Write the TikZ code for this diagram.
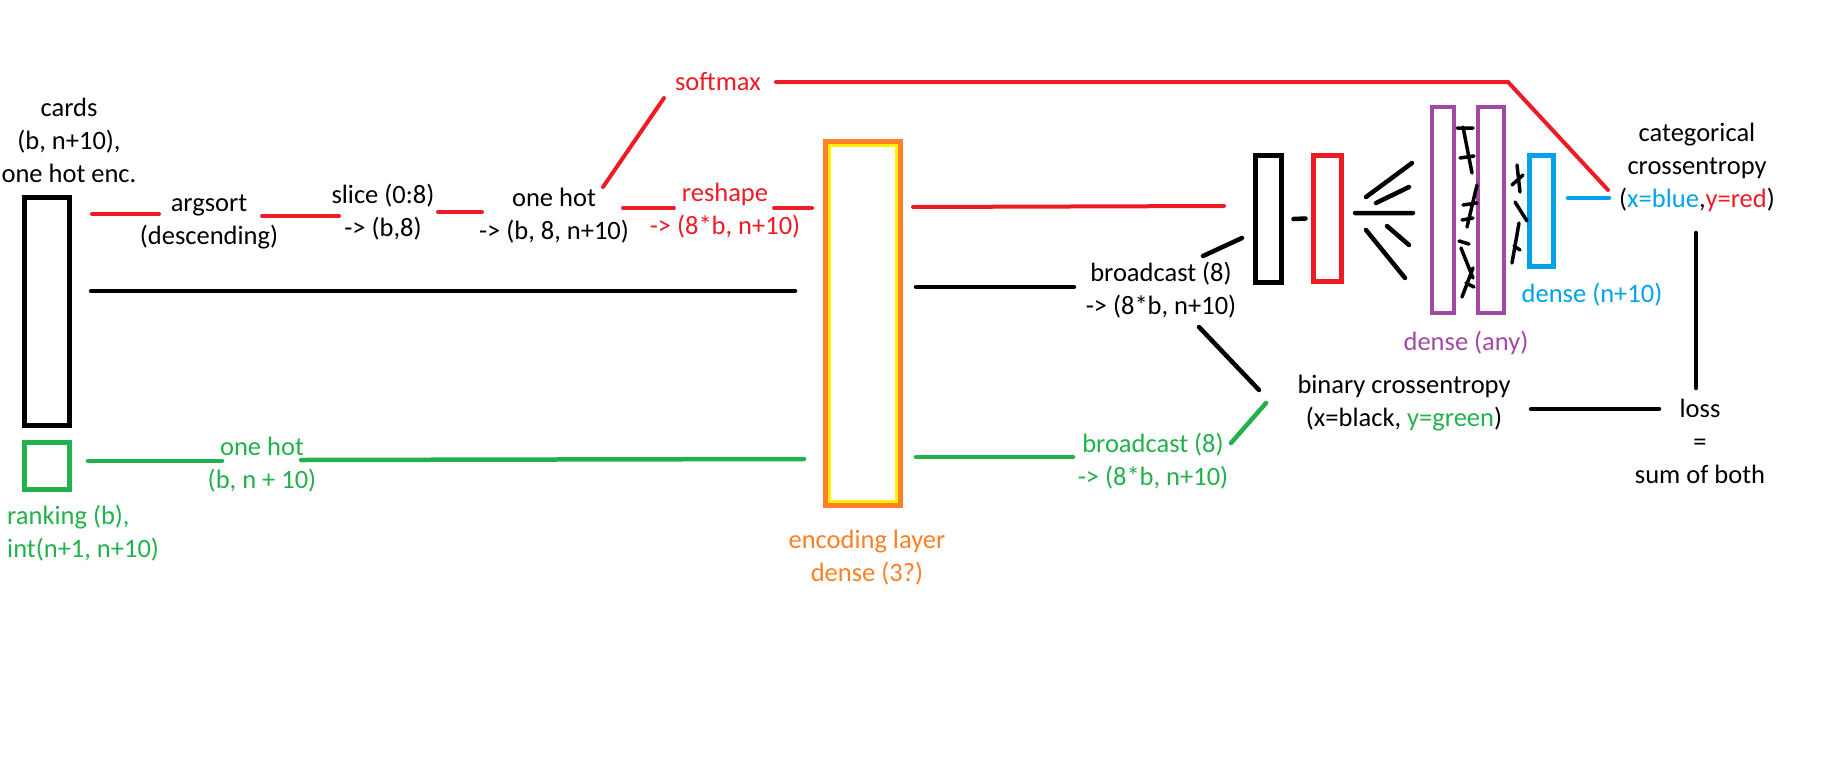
\documentclass[tikz,border=0pt]{standalone}
\usepackage{fontspec}
\setmainfont{Carlito}
\definecolor{pred}{HTML}{ED1C24}
\definecolor{pgreen}{HTML}{22B14C}
\definecolor{porange}{HTML}{FF7F27}
\definecolor{pyellow}{HTML}{FFF200}
\definecolor{ppurple}{HTML}{A349A4}
\definecolor{pblue}{HTML}{00A2E8}
\begin{document}
\begin{tikzpicture}[x=1pt, y=-1pt, line cap=round,
    every node/.style = {font=\fontsize{26.5}{33}\selectfont, inner sep=0pt, align=center},
    layer/.style = {draw, rectangle, line width=5, outer sep=0pt},
    redln/.style = {pred, line width=4},
    blackln/.style = {black, line width=4.5},
    greenln/.style = {pgreen, line width=4.5}]
    \useasboundingbox (0,0) rectangle (1824,756);
    % boxes
    \node[layer, minimum width=45, minimum height=228] (cards) at (47,311.5) {};
    \node[layer, pgreen, minimum width=45, minimum height=47] (rank) at (47,466) {};
    \node[layer, porange, minimum width=75, minimum height=364] (enc) at (863,323.5) {};
    \draw[pyellow, line width=3] ([shift={(4,4)}]enc.north west) rectangle ([shift={(-4,-4)}]enc.south east);
    \node[layer, minimum width=26, minimum height=127] (bk) at (1268.5,219) {};
    \node[layer, pred, minimum width=28, minimum height=126] (rb) at (1327.5,218.5) {};
    \node[layer, ppurple, line width=4, minimum width=22, minimum height=206] (p1) at (1443,210) {};
    \node[layer, ppurple, line width=4, minimum width=26, minimum height=206] (p2) at (1491,210) {};
    \node[layer, pblue, line width=4.5, minimum width=24, minimum height=111] (dbl) at (1541.5,211) {};
    % texts
    \node (cardstxt) at (69,140) {cards\\(b, n+10),\\one hot enc.};
    \node[pgreen, anchor=west, align=left] (ranktxt) at (7,533) {ranking (b),\\int(n+1, n+10)};
    \node (argsort) at (209,222) {argsort\\(descending)};
    \node (slice) at (383,212) {slice (0:8)\\-> (b,8)};
    \node (onehot) at (554,216) {one hot\\-> (b, 8, n+10)};
    \node[pred] (softmax) at (718,82) {softmax};
    \node[pred] (reshape) at (725,211) {reshape\\-> (8*b, n+10)};
    \node[pgreen] (gonehot) at (262,465) {one hot\\(b, n + 10)};
    \node[porange] (enctxt) at (867,558) {encoding layer\\dense (3?)};
    \node (bcast) at (1161,290) {broadcast (8)\\-> (8*b, n+10)};
    \node[pgreen] (gbcast) at (1153,461) {broadcast (8)\\-> (8*b, n+10)};
    \node (binary) at (1404,403) {binary crossentropy\\(x=black, {\color{pgreen}y=green})};
    \node (categ) at (1697,167) {categorical\\crossentropy\\({\color{pblue}x=blue},{\color{pred}y=red})};
    \node (loss) at (1700,441) {loss\\=\\sum of both};
    \node[pblue] (densen) at (1592,295) {dense (n+10)};
    \node[ppurple] (denseany) at (1466,343) {dense (any)};
    % line ends
    \path (92,214) coordinate (a1) (159,214) coordinate (a2)
          (262,216) coordinate (s1) (339,216) coordinate (s2)
          (438,212) coordinate (o1) (482,212) coordinate (o2)
          (603,187) coordinate (m1) (664,98) coordinate (m2)
          (623,208) coordinate (h1) (674,208) coordinate (h2)
          (774,208) coordinate (e1) (812,208) coordinate (e2)
          (913,207) coordinate (c1) (1224,206) coordinate (c2)
          (776,82) coordinate (t1) (1508,82) coordinate (t2) (1608,190) coordinate (t3)
          (91,291) coordinate (k1) (795,291) coordinate (k2)
          (916,287) coordinate (k3) (1074,287) coordinate (k4)
          (1203,256) coordinate (k5) (1242,238) coordinate (k6)
          (1199,327) coordinate (k7) (1259,390) coordinate (k8)
          (1531,409) coordinate (k9) (1659,409) coordinate (k10)
          (1696,233) coordinate (k11) (1696,388) coordinate (k12)
          (88,461) coordinate (g1) (222,461) coordinate (g2)
          (301,460) coordinate (g3) (804,459) coordinate (g4)
          (916,457) coordinate (g5) (1073,457) coordinate (g6)
          (1231,443) coordinate (g7) (1266,403) coordinate (g8)
          (1568,198) coordinate (u1) (1609,198) coordinate (u2);
    \foreach \a/\b in {a1/a2, s1/s2, o1/o2, m1/m2, h1/h2, e1/e2, c1/c2}
        \draw[redln] (\a) -- (\b);
    \draw[redln] (t1) -- (t2) -- (t3);
    \foreach \a/\b in {k1/k2, k3/k4, k5/k6, k7/k8, k9/k10, k11/k12}
        \draw[blackln] (\a) -- (\b);
    \foreach \a/\b in {g1/g2, g3/g4, g5/g6, g7/g8}
        \draw[greenln] (\a) -- (\b);
    \draw[blackln] ([xshift=12]bk.east) -- ([xshift=-8]rb.west);
    \draw[pblue, line width=4.5] (u1) -- (u2);
    % fan and scribbles
    \draw[blackln] (1355,213) -- (1413,213) (1366,197) -- (1412,163) (1376,203) -- (1409,187)
        (1366,230) -- (1405,278) (1387,226) -- (1409,245);
    \draw[black, line width=3.5] (1463,127) -- (1472,173) (1457,128) -- (1473,128) (1460,158) -- (1474,156)
        (1477,185) -- (1467,227) (1463,205) -- (1477,203) (1462,220) -- (1473,218)
        (1459,241) -- (1469,244) (1461,248) -- (1473,278) (1473,268) -- (1462,297) (1466,283) -- (1474,287)
        (1517,165) -- (1520,192) (1512,185) -- (1523,175) (1515,202) -- (1527,221) (1519,223) -- (1512,263)
        (1514,246) -- (1520,250);
\end{tikzpicture}
\end{document}
